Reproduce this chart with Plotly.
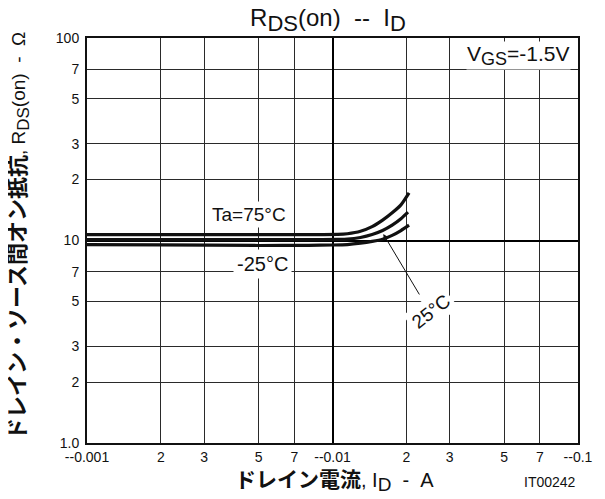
import math
import plotly.graph_objects as go

# ---- data ----
x_75 = [0.001, 0.002, 0.005, 0.008, 0.0105, 0.0115, 0.013, 0.0145, 0.016, 0.0175, 0.019, 0.0205]
y_75 = [10.7, 10.7, 10.7, 10.7, 10.72, 10.8, 11.1, 11.7, 12.6, 13.7, 15.0, 17.2]

x_25 = [0.001, 0.002, 0.005, 0.008, 0.0105, 0.0115, 0.013, 0.0145, 0.016, 0.0175, 0.019, 0.0203]
y_25 = [10.1, 10.1, 10.1, 10.1, 10.12, 10.15, 10.35, 10.7, 11.2, 11.9, 12.8, 13.8]

x_m25 = [0.001, 0.002, 0.005, 0.008, 0.01, 0.0115, 0.013, 0.0145, 0.016, 0.0175, 0.019, 0.0205]
y_m25 = [9.55, 9.52, 9.45, 9.47, 9.5, 9.55, 9.7, 9.9, 10.15, 10.6, 11.2, 11.9]

x_tickvals = [0.001, 0.002, 0.003, 0.005, 0.007, 0.01, 0.02, 0.03, 0.05, 0.07, 0.1]
x_ticktext = ["--0.001", "2", "3", "5", "7", "--0.01", "2", "3", "5", "7", "--0.1"]
y_tickvals = [1, 2, 3, 5, 7, 10, 20, 30, 50, 70, 100]
y_ticktext = ["1.0", "2", "3", "5", "7", "10", "2", "3", "5", "7", "100"]

FONT = "Liberation Sans, Arial, Noto Sans CJK JP"

# page body adds an 8px offset; compensate in the margins
OFF = 8
PL, PT, PW, PH = 87.0, 38.0, 491.0, 405.0
PB = PT + PH


def sub(t, size):
    return "<sub><span style='font-size:%dpx'>%s</span></sub>" % (size, t)


def sz(t, size, bold=False):
    s = "<span style='font-size:%dpx'>%s</span>" % (size, t)
    return "<b>%s</b>" % s if bold else s


fig = go.Figure()
for xs, ys in [(x_75, y_75), (x_25, y_25), (x_m25, y_m25)]:
    fig.add_trace(go.Scatter(x=xs, y=ys, mode="lines",
                             line=dict(color="#111", width=3.2, shape="spline", smoothing=0.6),
                             showlegend=False, hoverinfo="skip"))

L = math.log10
W, H = 605, 499
fig.update_layout(
    width=W, height=H,
    margin=dict(l=PL - OFF, r=W - (PL - OFF) - PW, t=PT - OFF, b=H - (PT - OFF) - PH, autoexpand=False),
    paper_bgcolor="white", plot_bgcolor="white",
    font=dict(family=FONT, color="#111", size=14),
    title=dict(text="R" + sub("DS", 22) + "(on)&nbsp;&nbsp;--&nbsp;&nbsp;I" + sub("D", 22),
               x=(328 - OFF) / W, xanchor="center", y=1 - (18 - OFF) / H, yanchor="middle",
               font=dict(size=24, family=FONT)),
    xaxis=dict(type="log", range=[-3, -1], tickvals=x_tickvals, ticktext=x_ticktext,
               showgrid=True, gridcolor="#2a2a2a", gridwidth=1, zeroline=False, automargin=False,
               showline=True, linecolor="#111", linewidth=2, mirror=True, ticks="",
               tickfont=dict(size=14)),
    yaxis=dict(type="log", range=[0, 2], tickvals=y_tickvals, ticktext=y_ticktext,
               showgrid=True, gridcolor="#2a2a2a", gridwidth=1, zeroline=False, automargin=False,
               showline=True, linecolor="#111", linewidth=2, mirror=True, ticks="",
               tickfont=dict(size=14), ticklabelstandoff=3),
    xaxis2=dict(type="log", range=[-3, -1], overlaying="x", tickvals=[0.01], showticklabels=False,
                showgrid=True, gridcolor="#000", gridwidth=2, zeroline=False, ticks="", automargin=False),
    yaxis2=dict(type="log", range=[0, 2], overlaying="y", tickvals=[10], showticklabels=False,
                showgrid=True, gridcolor="#000", gridwidth=1.5, zeroline=False, ticks="", automargin=False),
)
# invisible trace to activate overlay axes
fig.add_trace(go.Scatter(x=[0.01], y=[10], xaxis="x2", yaxis="y2", mode="markers",
                         marker=dict(opacity=0), showlegend=False, hoverinfo="skip"))


def px(xp):
    return (xp - PL) / PW


def py(yp):
    return (PB - yp) / PH


# axis titles
fig.add_annotation(x=px(334), y=py(481), xref="paper", yref="paper",
                   text=sz("ドレイン電流", 21, True) + ",&nbsp;I" + sub("D", 19) + "&nbsp;&nbsp;-&nbsp;&nbsp;A",
                   showarrow=False, font=dict(size=20), xanchor="center", yanchor="middle")
fig.add_annotation(x=px(19), y=py(236), xref="paper", yref="paper", textangle=-90,
                   text=sz("ドレイン・ソース間オン抵抗", 22, True) + ", R" + sub("DS", 17)
                   + "(on)&nbsp;&nbsp;-&nbsp;&nbsp;Ω",
                   showarrow=False, font=dict(size=19), xanchor="center", yanchor="middle")

fig.add_annotation(x=L(0.00457), y=L(13.5), xref="x", yref="y", text="Ta=75°C", showarrow=False,
                   font=dict(size=19), bgcolor="white", borderpad=2)
fig.add_annotation(x=L(0.0052), y=L(7.65), xref="x", yref="y", text="-25°C", showarrow=False,
                   font=dict(size=20), bgcolor="white", borderpad=3)
fig.add_annotation(x=L(0.0252), y=L(4.45), xref="x", yref="y", text="25°C", showarrow=False,
                   font=dict(size=19), bgcolor="white", borderpad=3, textangle=-38)
fig.add_annotation(x=L(0.0161), y=L(10.77), xref="x", yref="y", text="", showarrow=True,
                   ax=37, ay=62, arrowhead=2, arrowsize=1.2, arrowwidth=1, arrowcolor="#111")
fig.add_annotation(x=L(0.057), y=L(81.8), xref="x", yref="y", text="V" + sub("GS", 18) + "=-1.5V",
                   showarrow=False, font=dict(size=21), bgcolor="white", borderpad=0)
fig.add_annotation(x=px(550), y=py(482), xref="paper", yref="paper", text="IT00242", showarrow=False,
                   font=dict(size=14), xanchor="center", yanchor="middle")

fig.write_html("out.html")
